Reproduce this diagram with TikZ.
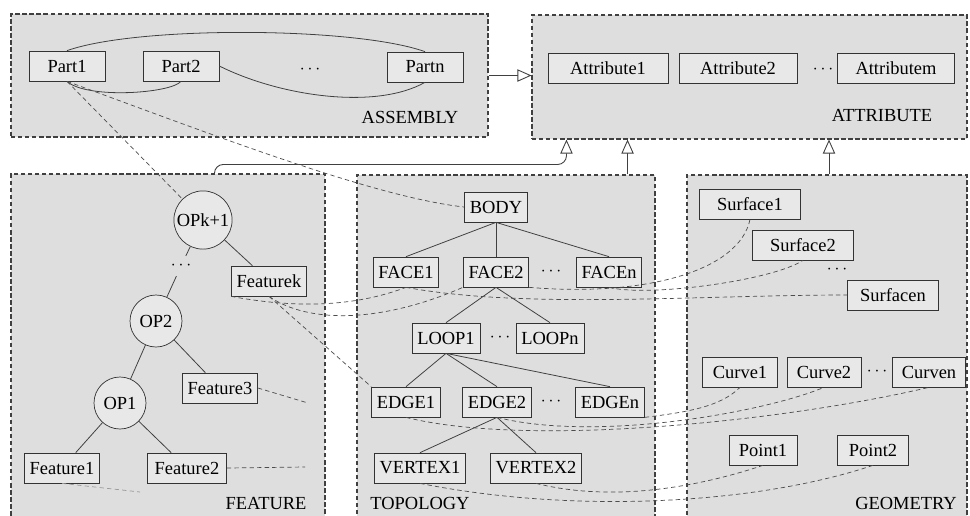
\documentclass[tikz,border=0pt]{standalone}
\usepackage{fontspec}
\setmainfont{Liberation Serif}
\usetikzlibrary{arrows.meta, positioning, calc, fit}
\tikzset{
  box/.style={rectangle, draw=black!80, fill=black!9, font=\fontsize{10.5}{12}\selectfont,
              minimum width=#1, minimum height=0.6cm,
              inner xsep=3pt, inner ysep=2pt},
  box/.default=1.2cm,
  opnode/.style={circle, draw=black!80, fill=black!9, minimum size=1.04cm, inner sep=1pt,
                 font=\fontsize{10.5}{12}\selectfont},
  grpbox/.style={draw=black!75, dash pattern=on 2.5pt off 1.5pt, line width=0.6pt,
                 fill=black!13, inner sep=0pt},
  grplbl/.style={font=\fontsize{10.5}{12}\selectfont},
  treeln/.style={draw=black!75, line width=0.45pt},
  maplink/.style={draw=black!70, dash pattern=on 2.5pt off 1.8pt, line width=0.4pt},
  imp/.style={black!75, line width=0.5pt, -{Triangle[length=8pt, width=7pt, fill=white]}},
}

\begin{document}
\begin{tikzpicture}[x=0.02cm, y=-0.02cm]
  \useasboundingbox (0,0) rectangle (970,515);
  \clip (0,0) rectangle (970,515);
  %% groups
  \node[grpbox, fit={(11,14)(488,137)}]   (asmbox)  {};
  \node[grpbox, fit={(532,15)(967,139)}]  (attrbox) {};
  \node[grpbox, fit={(11,174)(325,530)}]  (featbox) {};
  \node[grpbox, fit={(357,175)(655,530)}] (topobox) {};
  \node[grpbox, fit={(687,175)(967,530)}] (geombox) {};
  \node[grplbl] (asmlbl)  at (410,117) {ASSEMBLY};
  \node[grplbl] (attrlbl) at (882,115) {ATTRIBUTE};
  \node[grplbl] (featlbl) at (266,503) {FEATURE};
  \node[grplbl] (topolbl) at (420,503) {TOPOLOGY};
  \node[grplbl] (geomlbl) at (906,503) {GEOMETRY};
  %% assembly
  \node[box=1.52cm] (Part1) at (67,66)  {Part1};
  \node[box=1.52cm] (Part2) at (181,66) {Part2};
  \node             (adots) at (310,70) {$\cdots$};
  \node[box=1.52cm] (Partn) at (425,67) {Partn};
  \draw[treeln] (Part1.north) .. controls +(70,-25) and +(-70,-25) .. (Partn.north);
  \draw[treeln] (Part1.south) .. controls +(20,18) and +(-10,12) .. (Part2.south);
  \draw[treeln] (Part2.east) .. controls +(60,30) and +(-50,28) .. (Partn.south);
  %% attribute
  \node[box=2.4cm]  (Attribute1) at (608,68) {Attribute1};
  \node[box=2.36cm] (Attribute2) at (738,68) {Attribute2};
  \node             (atdots)     at (823,70) {$\cdots$};
  \node[box=2.34cm] (Attributem) at (896,68) {Attributem};
  %% feature
  \node[opnode]     (OPk1)     at (203,220) {OPk+1};
  \node             (opdots)   at (181,266) {$\cdots$};
  \node[box=1.5cm]  (Featurek) at (269,281) {Featurek};
  \node[opnode]     (OP2)      at (156,321) {OP2};
  \node[box=1.5cm]  (Feature3) at (220,388) {Feature3};
  \node[opnode]     (OP1)      at (120,403) {OP1};
  \node[box=1.5cm]  (Feature1) at (62,468)  {Feature1};
  \node[box=1.58cm] (Feature2) at (187,468) {Feature2};
  \foreach \a/\b in {OPk1/opdots,opdots/OP2,OPk1/Featurek,OP2/OP1,OP2/Feature3,OP1/Feature1,OP1/Feature2}
    \draw[treeln] (\a) -- (\b);
  %% topology
  \node[box=1.26cm] (BODY)    at (496,207) {BODY};
  \node[box=1.16cm] (FACE1)   at (406,272) {FACE1};
  \node[box=1.26cm] (FACE2)   at (496,272) {FACE2};
  \node             (fdots)   at (551,272) {$\cdots$};
  \node[box=1.3cm]  (FACEn)   at (609,272) {FACEn};
  \node[box=1.36cm] (LOOP1)   at (446,338) {LOOP1};
  \node             (ldots)   at (500,338) {$\cdots$};
  \node[box=1.28cm] (LOOPn)   at (550,338) {LOOPn};
  \node[box=1.24cm] (EDGE1)   at (406,402) {EDGE1};
  \node[box=1.22cm] (EDGE2)   at (497,402) {EDGE2};
  \node             (edots)   at (551,402) {$\cdots$};
  \node[box=1.28cm] (EDGEn)   at (610,402) {EDGEn};
  \node[box=1.66cm] (VERTEX1) at (420,468) {VERTEX1};
  \node[box=1.64cm] (VERTEX2) at (536,468) {VERTEX2};
  \foreach \a/\b in {BODY/FACE1,BODY/FACE2,BODY/FACEn,FACE2/LOOP1,FACE2/LOOPn,
                     LOOP1/EDGE1,LOOP1/EDGE2,LOOP1/EDGEn,EDGE2/VERTEX1,EDGE2/VERTEX2}
    \draw[treeln] (\a.south) -- (\b.north);
  %% geometry
  \node[box=2.02cm] (Surface1) at (750,204) {Surface1};
  \node[box=2.02cm] (Surface2) at (803,245) {Surface2};
  \node             (sdots)    at (837,270) {$\cdots$};
  \node[box=1.82cm] (Surfacen) at (893,295) {Surfacen};
  \node[box=1.5cm]  (Curve1)   at (740,372) {Curve1};
  \node[box=1.48cm] (Curve2)   at (824,372) {Curve2};
  \node             (cdots)    at (877,372) {$\cdots$};
  \node[box=1.46cm] (Curven)   at (929,372) {Curven};
  \node[box=1.36cm] (Point1)   at (763,450) {Point1};
  \node[box=1.42cm] (Point2)   at (873,450) {Point2};
  %% links to ATTRIBUTE
  \draw[imp] (asmbox.east) -- (asmbox.east -| attrbox.west);
  \draw[imp, rounded corners=5pt] ($(featbox.north west)+(204,0)$) -- ++(0,-9)
    -| ($(attrbox.south west)+(35,0)$);
  \draw[imp] ($(topobox.north east)+(-28,0)$) coordinate (tup) -- (tup |- attrbox.south);
  \draw[imp] ($(geombox.north)+(2,0)$) coordinate (gup) -- (gup |- attrbox.south);
  %% mapping links
  \draw[maplink] (Part1.south) -- (OPk1);
  \draw[maplink] (Part1.south) .. controls +(150,55) and +(-90,-10) .. (BODY.west);
  \draw[maplink] (Featurek.south west) .. controls +(80,15) and +(-40,15) .. (FACE1.south);
  \draw[maplink] (Featurek.south) .. controls +(40,28) and +(-80,35) .. (FACE2.south west);
  \draw[maplink] (Featurek.south) -- (EDGE1.north west);
  \draw[maplink] (FACE1.south) .. controls +(120,22) and +(-150,0) .. (Surfacen.west);
  \draw[maplink] (FACE2.south east) .. controls +(120,10) and +(-10,50) .. (Surface1.south);
  \draw[maplink] (FACEn.south) .. controls +(40,10) and +(-30,20) .. (Surface2.south);
  \draw[maplink] (EDGEn.south east) .. controls +(40,-5) and +(-20,20) .. (Curve1.south);
  \draw[maplink] (EDGE1.south) .. controls +(120,30) and +(-150,35) .. (Curven.south);
  \draw[maplink] (EDGE2.south) .. controls +(100,25) and +(-60,25) .. (Curve2.south);
  \draw[maplink] (VERTEX1.south) .. controls +(150,30) and +(-120,40) .. (Point2.south);
  \draw[maplink] (VERTEX2.south) .. controls +(80,20) and +(-60,20) .. (Point1.south);
  \coordinate (f3end) at (308,403);
  \coordinate (f2end) at (305,467);
  \coordinate (f1end) at (140,492);
  \draw[maplink] (Feature3.east) -- (f3end);
  \draw[maplink] (Feature2.east) -- (f2end);
  \draw[maplink, black!40] (Feature1.south) -- (f1end);
\end{tikzpicture}
\end{document}
